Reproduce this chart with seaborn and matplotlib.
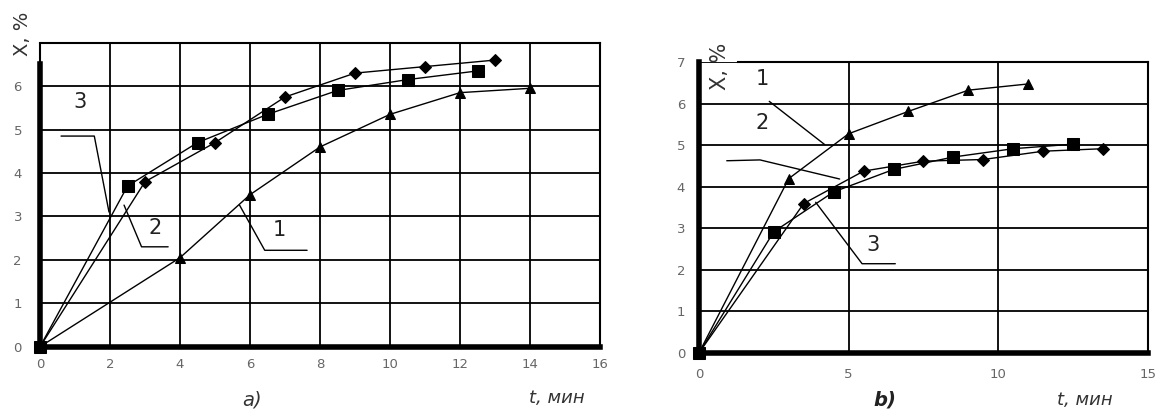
import pandas as pd
import matplotlib
matplotlib.use("Agg")
import matplotlib.pyplot as plt
import seaborn as sns

# -----------------------------
# Panel a) data
# -----------------------------
a_t1 = [0, 4, 6, 8, 10, 12, 14]
a_x1 = [0, 2.05, 3.5, 4.6, 5.35, 5.85, 5.95]
a_t2 = [0, 2.5, 4.5, 6.5, 8.5, 10.5, 12.5]
a_x2 = [0, 3.7, 4.7, 5.35, 5.9, 6.15, 6.35]
a_t3 = [0, 3, 5, 7, 9, 11, 13]
a_x3 = [0, 3.8, 4.7, 5.75, 6.3, 6.45, 6.6]

# -----------------------------
# Panel b) data
# -----------------------------
b_t1 = [0, 3, 5, 7, 9, 11]
b_x1 = [0, 4.2, 5.28, 5.82, 6.33, 6.48]
b_t2 = [0, 2.5, 4.5, 6.5, 8.5, 10.5, 12.5]
b_x2 = [0, 2.92, 3.88, 4.42, 4.72, 4.92, 5.03]
b_t3 = [0, 3.5, 5.5, 7.5, 9.5, 11.5, 13.5]
b_x3 = [0, 3.6, 4.38, 4.62, 4.66, 4.86, 4.92]

series_names = ["1", "2", "3"]
markers = {"1": "^", "2": "s", "3": "D"}
marker_sizes = {"1": 7.5, "2": 9, "3": 6}

# leader lines for curve labels (annotations)
a_labels = {"1": (6.65, 2.55), "2": (3.1, 2.6), "3": (0.95, 5.5)}
a_leaders = [
    ([5.7, 6.42, 7.63], [3.26, 2.22, 2.22]),
    ([2.4, 2.9, 3.66], [3.26, 2.3, 2.3]),
    ([0.6, 1.55, 1.97], [4.85, 4.85, 3.1]),
]
b_labels = {"1": (1.9, 6.45), "2": (1.9, 5.4), "3": (5.6, 2.45)}
b_leaders = [
    ([2.35, 4.2], [6.06, 5.02]),
    ([0.93, 2.04, 4.7], [4.63, 4.65, 4.19]),
    ([3.9, 5.45, 6.56], [3.63, 2.15, 2.15]),
]


def make_frame(ts, xs):
    rows = []
    for name, t, x in zip(series_names, ts, xs):
        for ti, xi in zip(t, x):
            rows.append({"t": ti, "x": xi, "curve": name})
    return pd.DataFrame(rows)


def draw_panel(ax, df, xmax, xticks, ylabels7, ypad, xpad):
    for name in series_names:
        sub = df[df["curve"] == name]
        sns.lineplot(data=sub, x="t", y="x", ax=ax, color="black",
                     marker=markers[name], markersize=marker_sizes[name],
                     markeredgecolor="black", linewidth=1.0,
                     estimator=None, sort=False, clip_on=False, zorder=5)

    ax.set_xlim(0, xmax)
    ax.set_ylim(0, 7)
    ax.set_xticks(xticks)
    ax.set_xticklabels([str(v) for v in xticks])
    ax.set_yticks(range(8))
    labels = [str(v) for v in range(8)]
    if not ylabels7:
        labels[-1] = ""
    ax.set_yticklabels(labels)
    ax.grid(True, color="black", linewidth=1.3)
    ax.set_axisbelow(True)
    ax.set_xlabel("")
    ax.set_ylabel("")
    ax.tick_params(axis="both", labelsize=9.5, labelcolor="#666666",
                   length=2, color="#888888")
    ax.tick_params(axis="y", pad=ypad)
    ax.tick_params(axis="x", pad=xpad)
    for side in ["top", "right"]:
        ax.spines[side].set_color("black")
        ax.spines[side].set_linewidth(1.5)
    for side in ["left", "bottom"]:
        ax.spines[side].set_color("black")
        ax.spines[side].set_linewidth(4)
        ax.spines[side].set_zorder(6)


sns.set_theme(style="white")
plt.rcParams["font.family"] = ["DejaVu Sans"]

fig = plt.figure(figsize=(11.61, 4.17), dpi=100)
ax1 = fig.add_axes([0.0345, 0.1686, 0.4823, 0.729])
ax2 = fig.add_axes([0.602, 0.1535, 0.3868, 0.697])

# -----------------------------
# Panel a)
# -----------------------------
df_a = make_frame([a_t1, a_t2, a_t3], [a_x1, a_x2, a_x3])
draw_panel(ax1, df_a, 16, list(range(0, 17, 2)), False, 11, 6)
ax1.spines["left"].set_bounds(0, 6.5)
ax1.plot([0, 0], [6.5, 7], color="black", lw=1.5, clip_on=False)
for name, (tx, ty) in a_labels.items():
    ax1.text(tx, ty, name, fontsize=15, color="#222222", zorder=7)
for lx, ly in a_leaders:
    ax1.plot(lx, ly, color="black", lw=1.0, zorder=4)

# -----------------------------
# Panel b)
# -----------------------------
df_b = make_frame([b_t1, b_t2, b_t3], [b_x1, b_x2, b_x3])
draw_panel(ax2, df_b, 15, [0, 5, 10, 15], True, 8, 9)
ax2.spines["top"].set_bounds(1.3, 15)
for name, (tx, ty) in b_labels.items():
    ax2.text(tx, ty, name, fontsize=15, color="#222222", zorder=7)
for lx, ly in b_leaders:
    ax2.plot(lx, ly, color="black", lw=1.0, zorder=4)

# -----------------------------
# Axis titles and panel captions
# -----------------------------
fig.text(0.0198, 0.918, "X, %", rotation=90, fontsize=14, color="#333333",
         ha="center", va="center")
fig.text(0.620, 0.842, "X, %", rotation=90, fontsize=15, color="#333333",
         ha="center", va="center")
fig.text(557 / 1161, 1 - 398 / 417, "t, мин", fontsize=13, style="italic",
         color="#333333", ha="center", va="center")
fig.text(1085 / 1161, 1 - 400 / 417, "t, мин", fontsize=13, style="italic",
         color="#333333", ha="center", va="center")
fig.text(252 / 1161, 1 - 400 / 417, "a)", fontsize=14, style="italic",
         color="#333333", ha="center", va="center")
fig.text(885 / 1161, 1 - 400 / 417, "b)", fontsize=14, style="italic",
         weight="bold", color="#222222", ha="center", va="center")

fig.savefig("out.png", dpi=100)
